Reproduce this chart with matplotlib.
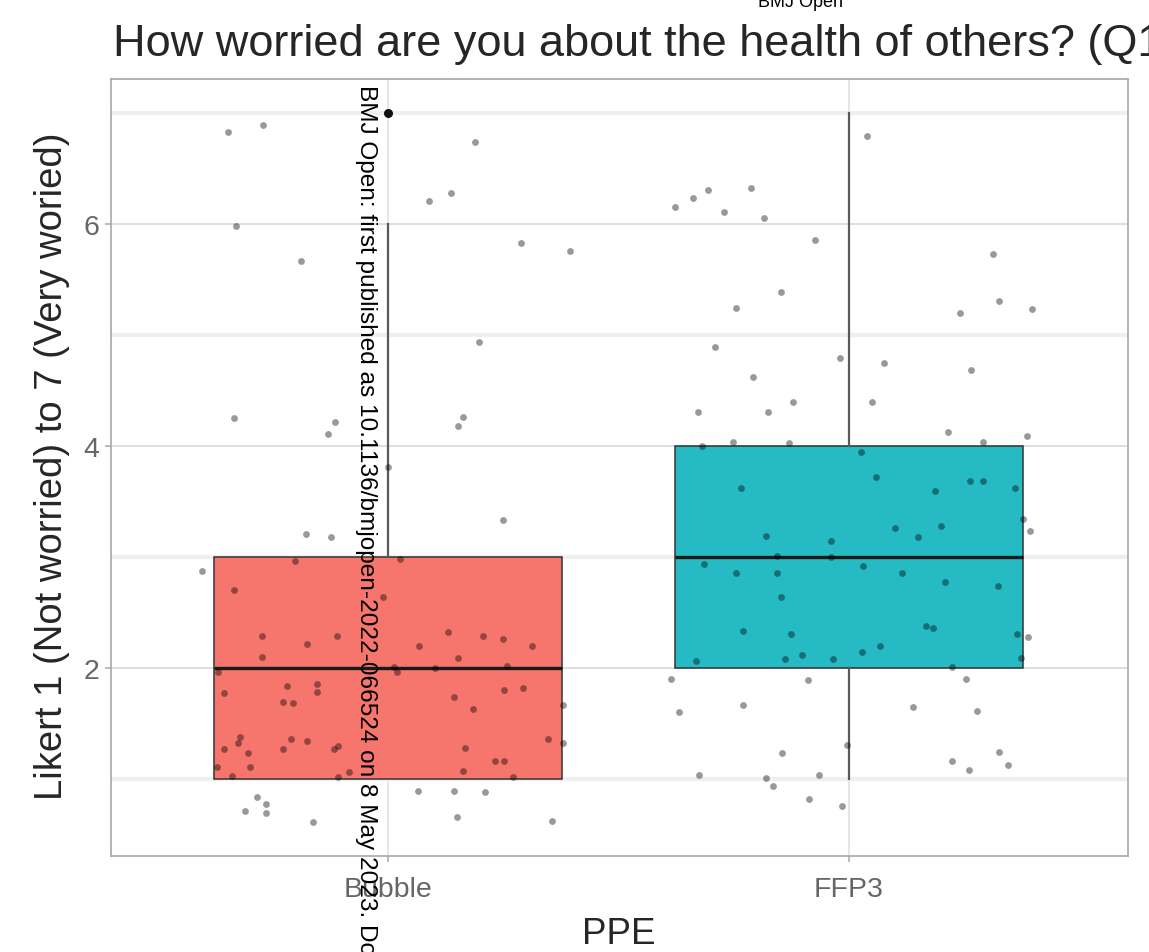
import matplotlib
matplotlib.use("Agg")
import matplotlib.pyplot as plt
import numpy as np

# ---- data -------------------------------------------------------------
groups = ["Bubble", "FFP3"]
box_q1 = [1, 2]
box_median = [2, 3]
box_q3 = [3, 4]
whisker_low = [1, 1]
whisker_high = [6, 7]
outlier_values = [[7], []]
box_fills = ["#F6756C", "#26BAC4"]

# jittered responses: horizontal offset from the group centre, jittered Likert score
bubble_dx = [-0.347, -0.271, -0.328, -0.187, -0.334, -0.115, -0.130, 0.189, 0.089, 0.137,
             0.289, 0.395, 0.197, 0.152, 0.163, 0.249, 0.000, -0.178, -0.124, -0.403,
             -0.200, -0.334, -0.273, -0.176, -0.111, -0.273, -0.369, -0.356, -0.219, -0.154,
             -0.154, -0.228, -0.206, -0.321, -0.325, -0.354, -0.304, -0.299, -0.226, -0.210,
             -0.174, -0.108, -0.117, -0.371, -0.338, -0.085, -0.108, -0.284, -0.310, -0.265,
             -0.265, -0.163, 0.026, -0.011, 0.130, 0.206, 0.249, 0.312, 0.067, 0.152,
             0.013, 0.020, 0.102, 0.258, 0.252, 0.293, 0.143, 0.184, 0.380, 0.167,
             0.347, 0.380, 0.232, 0.252, 0.163, 0.271, 0.065, 0.143, 0.210, 0.150,
             0.356]
bubble_y = [6.83, 6.89, 5.98, 5.67, 4.25, 4.22, 4.11, 6.74, 6.21, 6.28,
            5.83, 5.76, 4.94, 4.18, 4.26, 3.33, 3.81, 3.21, 3.18, 2.87,
            2.96, 2.70, 2.29, 2.22, 2.29, 2.10, 1.96, 1.77, 1.84, 1.86,
            1.78, 1.69, 1.68, 1.38, 1.32, 1.27, 1.23, 1.11, 1.27, 1.36,
            1.34, 1.30, 1.27, 1.11, 1.03, 1.06, 1.02, 0.84, 0.71, 0.77,
            0.69, 0.61, 2.98, 2.64, 2.32, 2.29, 2.26, 2.20, 2.20, 2.09,
            2.01, 1.96, 2.00, 2.02, 1.80, 1.82, 1.74, 1.63, 1.67, 1.28,
            1.36, 1.32, 1.16, 1.16, 1.07, 1.02, 0.89, 0.89, 0.88, 0.66,
            0.62]

ffp3_dx = [0.039, -0.377, -0.338, -0.306, -0.271, -0.213, -0.184, -0.074, -0.148, -0.245,
           -0.291, -0.208, -0.328, -0.176, -0.121, -0.020, 0.076, 0.050, 0.265, 0.241,
           0.325, 0.397, 0.312, 0.215, 0.291, 0.386, -0.319, -0.252, -0.130, 0.026,
           -0.234, 0.059, 0.187, 0.262, 0.291, 0.360, -0.180, -0.039, 0.100, 0.150,
           0.200, 0.377, 0.393, -0.315, -0.245, -0.156, -0.156, -0.039, 0.030, 0.115,
           0.208, 0.323, -0.148, -0.230, -0.126, 0.167, 0.182, 0.364, 0.388, -0.332,
           -0.139, -0.102, -0.035, 0.028, 0.067, 0.223, 0.373, -0.386, -0.089, 0.254,
           -0.369, -0.230, 0.139, 0.278, -0.004, -0.145, 0.325, 0.223, 0.260, 0.345,
           -0.325, -0.180, -0.165, -0.065, -0.087, -0.015]
ffp3_y = [6.79, 6.15, 6.23, 6.31, 6.11, 6.32, 6.05, 5.86, 5.39, 5.24,
          4.89, 4.62, 4.31, 4.31, 4.40, 4.79, 4.75, 4.40, 4.68, 5.20,
          5.31, 5.23, 5.73, 4.13, 4.04, 4.09, 4.00, 4.04, 4.03, 3.95,
          3.62, 3.72, 3.59, 3.68, 3.68, 3.62, 3.19, 3.14, 3.26, 3.18,
          3.28, 3.34, 3.23, 2.94, 2.86, 3.01, 2.86, 3.00, 2.92, 2.86,
          2.77, 2.74, 2.64, 2.33, 2.31, 2.38, 2.36, 2.31, 2.28, 2.06,
          2.08, 2.12, 2.08, 2.14, 2.20, 2.01, 2.09, 1.90, 1.89, 1.90,
          1.60, 1.67, 1.65, 1.61, 1.31, 1.23, 1.24, 1.16, 1.08, 1.13,
          1.04, 1.01, 0.94, 1.04, 0.82, 0.76]

y_ticks = [2, 4, 6]
y_minor = [1, 3, 5, 7]

title = "How worried are you about the health of others? (Q1"
x_title = "PPE"
y_title = "Likert 1 (Not worried) to 7 (Very woried)"
header_note = "BMJ Open"
side_note = "BMJ Open: first published as 10.1136/bmjopen-2022-066524 on 8 May 2023. Dow"

# ---- figure -------------------------------------------------------------
W, H = 1149, 953
fig = plt.figure(figsize=(W / 100, H / 100), dpi=100)
fig.patch.set_facecolor("white")
plt.rcParams["font.family"] = ["Liberation Sans", "DejaVu Sans"]

ax = fig.add_axes([111 / W, 1 - 857 / H, (1128 - 111) / W, (857 - 80) / H])
ax.set_xlim(0.4, 2.605)
ax.set_ylim(0.306, 7.306)

positions = np.arange(1, len(groups) + 1)

# grid
ax.set_yticks(y_ticks)
ax.set_yticks(y_minor, minor=True)
ax.set_xticks(positions)
ax.set_xticklabels(groups)
ax.grid(which="minor", axis="y", color="#efefef", lw=3.0, zorder=0)
ax.grid(which="major", axis="y", color="#d8d8d8", lw=1.2, zorder=0)
ax.grid(which="major", axis="x", color="#e2e2e2", lw=1.2, zorder=0)
ax.set_axisbelow(True)

# boxes
stats = []
for i in range(len(groups)):
    stats.append(dict(q1=box_q1[i], med=box_median[i], q3=box_q3[i],
                      whislo=whisker_low[i], whishi=whisker_high[i],
                      fliers=outlier_values[i], label=groups[i]))
bp = ax.bxp(stats, positions=positions, widths=0.755, patch_artist=True,
            showcaps=False, showfliers=True, manage_ticks=False,
            boxprops=dict(edgecolor="#333333", linewidth=1.1),
            medianprops=dict(color="#1a1a1a", linewidth=2.4),
            whiskerprops=dict(color="#5a5a5a", linewidth=1.6),
            flierprops=dict(marker="o", markerfacecolor="#111111",
                            markeredgecolor="none", markersize=6.5))
for patch, col in zip(bp["boxes"], box_fills):
    patch.set_facecolor(col)
    patch.set_zorder(2)
for key in ("medians", "whiskers", "fliers"):
    for art in bp[key]:
        art.set_zorder(3)

# jittered points
ax.scatter(positions[0] + np.array(bubble_dx), bubble_y, s=24, c="black",
           alpha=0.4, linewidths=0, zorder=4)
ax.scatter(positions[1] + np.array(ffp3_dx), ffp3_y, s=24, c="black",
           alpha=0.4, linewidths=0, zorder=4)

# frame and ticks
for sp in ax.spines.values():
    sp.set_color("#a8a8a8")
    sp.set_linewidth(1.2)
ax.tick_params(which="major", length=4.5, width=1.1, color="#a8a8a8",
               labelcolor="#666666", labelsize=20.5)
ax.tick_params(axis="x", pad=10)
ax.tick_params(axis="y", pad=4)
ax.tick_params(which="minor", length=0)

# titles
fig.text(113 / W, 1 - 56 / H, title, fontsize=32.5, color="#262626",
         ha="left", va="baseline")
fig.text(619 / W, 1 - 944 / H, x_title, fontsize=26.5, color="#262626",
         ha="center", va="baseline")
fig.text(52 / W, 1 - 466 / H, y_title, fontsize=27.5, color="#262626",
         rotation=90, ha="center", va="center")

# overlaid notes
fig.text(800 / W, 1 - 7 / H, header_note, fontsize=13, color="black",
         ha="center", va="baseline")
fig.text(360 / W, 1 - 85 / H, side_note, fontsize=17.6, color="black",
         rotation=-90, rotation_mode="anchor", ha="left", va="baseline")

fig.savefig("out.png", dpi=100, facecolor="white")
